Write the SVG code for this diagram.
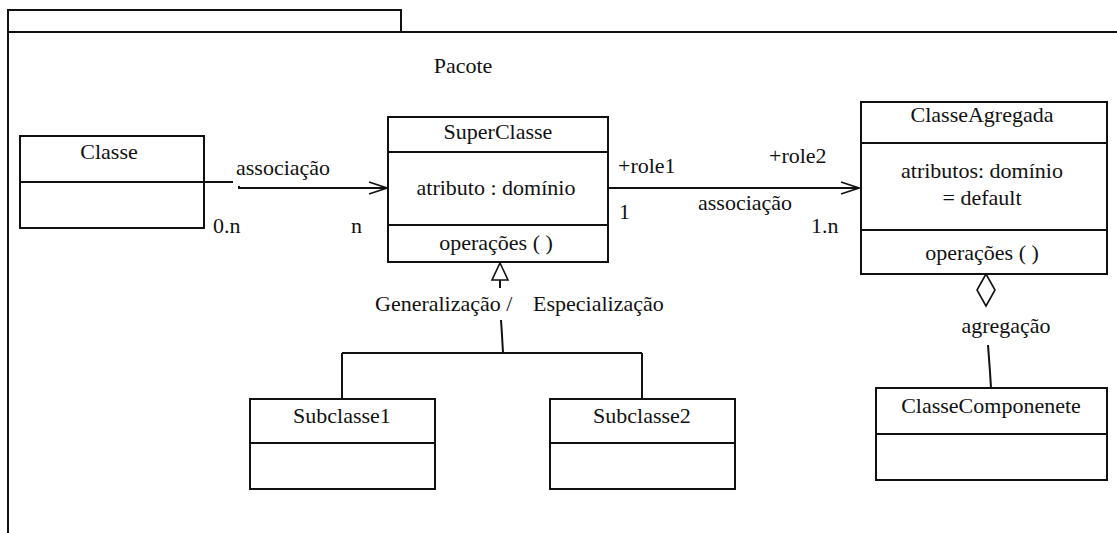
<svg xmlns="http://www.w3.org/2000/svg" width="1117" height="533" viewBox="0 0 1117 533">
  <style>
    .box { fill: #fff; stroke: #111; stroke-width: 2; }
    .ln { fill: none; stroke: #111; stroke-width: 2; }
    .thin { fill: none; stroke: #111; stroke-width: 1.6; }
    text { font-family: "Liberation Serif", "Times New Roman", serif; font-size: 22px; fill: #111; }
    .c { text-anchor: middle; }
  </style>
  <defs>
    <marker id="openArrow" markerWidth="22" markerHeight="18" refX="20" refY="9" orient="auto" markerUnits="userSpaceOnUse">
      <path d="M2,3 L20,9 L2,15" fill="none" stroke="#111" stroke-width="1.6"/>
    </marker>
  </defs>
  <rect width="1117" height="533" fill="#fff"/>

  <!-- package frame -->
  <g id="pacote">
    <path class="ln" d="M8,533 L8,10 L401,10 L401,32"/>
    <path class="ln" d="M8,32 L1117,32"/>
    <text x="463" y="73" class="c">Pacote</text>
  </g>

  <!-- connectors -->
  <g id="connectors">
    <path class="ln" d="M204,182 L233,182"/>
    <path class="ln" d="M239,186 L239,188 L387,188" marker-end="url(#openArrow)"/>
    <path class="ln" d="M608,188 L859,188" marker-end="url(#openArrow)"/>
    <!-- generalization -->
    <path class="thin" d="M500,263 L508,280 L492,280 Z" fill="#fff"/>
    <path class="ln" d="M500,280 L500,288"/>
    <path class="ln" d="M501,320 L502,335 L503,353"/>
    <path class="ln" d="M342,353 L642,353"/>
    <path class="ln" d="M342,353 L342,399"/>
    <path class="ln" d="M642,353 L642,399"/>
    <!-- aggregation -->
    <path class="thin" d="M986,274 L995,290 L986,306 L977,290 Z" fill="#fff"/>
    <path class="ln" d="M988,345 L990,372 L991,388"/>
  </g>

  <!-- connector labels -->
  <g id="labels">
    <text x="236" y="175">associação</text>
    <text x="213" y="233">0.n</text>
    <text x="351" y="233">n</text>
    <text x="618" y="173">+role1</text>
    <text x="769" y="163">+role2</text>
    <text x="619" y="219">1</text>
    <text x="698" y="210">associação</text>
    <text x="811" y="233">1.n</text>
    <text x="375" y="311">Generalização /</text>
    <text x="533" y="311">Especialização</text>
    <text x="1006" y="333" class="c">agregação</text>
  </g>

  <g id="classe">
    <rect class="box" x="20" y="136" width="184" height="92"/>
    <line class="ln" x1="20" y1="182" x2="204" y2="182"/>
    <text x="109" y="159" class="c">Classe</text>
  </g>

  <g id="superclasse">
    <rect class="box" x="388" y="117" width="220" height="145"/>
    <line class="ln" x1="388" y1="152" x2="608" y2="152"/>
    <line class="ln" x1="388" y1="225" x2="608" y2="225"/>
    <text x="498" y="139" class="c">SuperClasse</text>
    <text x="496" y="195" class="c">atributo : domínio</text>
    <text x="496" y="250" class="c">operações ( )</text>
  </g>

  <g id="classeagregada">
    <rect class="box" x="861" y="102" width="246" height="172"/>
    <line class="ln" x1="861" y1="143" x2="1107" y2="143"/>
    <line class="ln" x1="861" y1="230" x2="1107" y2="230"/>
    <text x="982" y="122" class="c">ClasseAgregada</text>
    <text x="982" y="178" class="c">atributos: domínio</text>
    <text x="982" y="205" class="c">= default</text>
    <text x="982" y="260" class="c">operações ( )</text>
  </g>

  <g id="subclasse1">
    <rect class="box" x="250" y="399" width="185" height="90"/>
    <line class="ln" x1="250" y1="443" x2="435" y2="443"/>
    <text x="342" y="423" class="c">Subclasse1</text>
  </g>

  <g id="subclasse2">
    <rect class="box" x="550" y="399" width="185" height="90"/>
    <line class="ln" x1="550" y1="443" x2="735" y2="443"/>
    <text x="642" y="423" class="c">Subclasse2</text>
  </g>

  <g id="classecomponenete">
    <rect class="box" x="876" y="388" width="231" height="92"/>
    <line class="ln" x1="876" y1="434" x2="1107" y2="434"/>
    <text x="991" y="413" class="c">ClasseComponenete</text>
  </g>
</svg>
